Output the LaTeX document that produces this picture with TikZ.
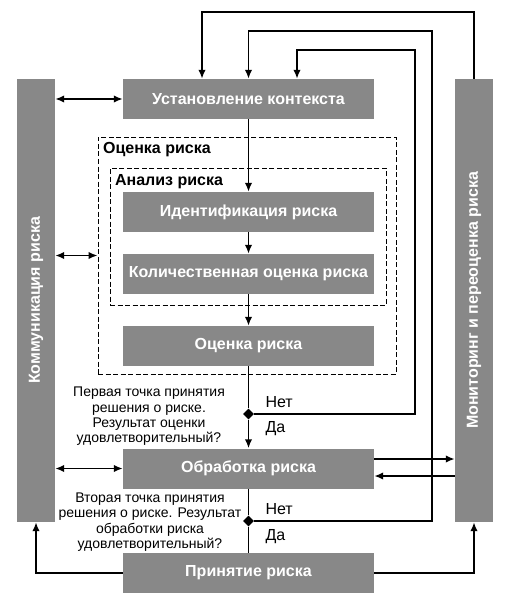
\documentclass[tikz,border=0pt]{standalone}
\usepackage{fontspec}
\setmainfont{Liberation Sans}
\usetikzlibrary{arrows.meta,shapes.geometric}
\definecolor{boxgray}{RGB}{136,136,136}

\tikzset{
  box/.style={fill=boxgray,text=white,font=\bfseries\fontsize{16}{18}\selectfont,
    minimum width=251pt,minimum height=40pt,inner sep=0pt},
  bar/.style={fill=boxgray,minimum width=38pt,minimum height=443pt,inner sep=0pt},
  barlabel/.style={text=white,font=\bfseries\fontsize{16}{18}\selectfont,rotate=90},
  frame/.style={draw,line width=0.9pt,dash pattern=on 5pt off 2.5pt,inner sep=0pt},
  framelabel/.style={anchor=west,font=\bfseries\fontsize{16}{18}\selectfont},
  flow/.style={line width=1.8pt,-{Latex[length=9pt,width=7.5pt]}},
  dflow/.style={line width=1.8pt,{Latex[length=9pt,width=7.5pt]}-{Latex[length=9pt,width=7.5pt]}},
  plain/.style={line width=1.8pt},
  decision/.style={diamond,fill=black,inner sep=0pt,minimum size=11pt},
  ask/.style={align=center,font=\fontsize{14}{15.3}\selectfont},
  yesno/.style={anchor=west,font=\fontsize{16}{18}\selectfont}
}

\begin{document}
\begin{tikzpicture}[x=1pt,y=-1pt]
\useasboundingbox (0,0) rectangle (514,599);

%%%%%%%%%%%%%% side bars
\node[bar] (comm) at (36,300.5) {};
\node[barlabel] (commtext) at (comm.center) {Коммуникация риска};
\node[bar] (mon) at (474,300.5) {};
\node[barlabel] (montext) at (mon.center) {Мониторинг и переоценка риска};

%%%%%%%%%%%%%% dashed frames
\node[frame,minimum width=298pt,minimum height=237pt] (assess) at (247,255.5) {};
\node[framelabel] (assesstext) at ([xshift=2pt,yshift=-13pt]assess.north west) {Оценка риска};
\node[frame,minimum width=276pt,minimum height=137pt] (analysis) at (248,236.5) {};
\node[framelabel] (analysistext) at ([xshift=2pt,yshift=-14pt]analysis.north west) {Анализ риска};

%%%%%%%%%%%%%% process boxes
\node[box] (ctx) at (248.5,99) {Установление контекста};
\node[box] (ident) at (248.5,212) {Идентификация риска};
\node[box] (quant) at (248.5,274) {Количественная оценка риска};
\node[box] (eval) at (248.5,346) {Оценка риска};
\node[box] (treat) at (248.5,468.5) {Обработка риска};
\node[box] (accept) at (248.5,573) {Принятие риска};

%%%%%%%%%%%%%% decisions
\node[decision] (d1) at (248.5,414) {};
\node[ask] (q1) at (149,416.5) {Первая точка принятия\\решения о риске.\\Результат оценки\\удовлетворительный?};
\node[yesno] (no1) at (262,402) {Нет};
\node[yesno] (yes1) at (262,429) {Да};

\node[decision] (d2) at (248.5,521) {};
\node[ask] (q2) at (150,522) {Вторая точка принятия\\решения о риске. Результат\\обработки риска\\удовлетворительный?};
\node[yesno] (no2) at (262,509) {Нет};
\node[yesno] (yes2) at (262,537) {Да};

%%%%%%%%%%%%%% main flow
\draw[flow] (ctx) -- (ident);
\draw[flow] (ident) -- (quant);
\draw[flow] (quant) -- (eval);
\draw[plain] (eval) -- (d1);
\draw[flow] (d1) -- (treat);
\draw[plain] (treat) -- (d2) -- (accept);

%%%%%%%%%%%%%% feedback loops
\coordinate (top1) at (202,12);
\coordinate (top2) at (432,31);
\coordinate (top3) at (415,50);
\draw[flow] (mon.north) |- (top1) -- (top1 |- ctx.north);
\draw[flow] (d2) -| (top2) -| (ctx.north);
\draw[flow] (d1) -| (top3) -| ([xshift=48.5pt]ctx.north);

%%%%%%%%%%%%%% links to the bars
\draw[dflow] (ctx.west -| comm.east) -- (ctx.west);
\draw[dflow] (assess.west -| comm.east) -- (assess.west);
\draw[dflow] (treat.west -| comm.east) -- (treat.west);
\coordinate (tr1) at ([yshift=9.5pt]treat.east);
\coordinate (tr2) at ([yshift=-7.5pt]treat.east);
\draw[flow] (tr1) -- (tr1 -| mon.west);
\draw[flow] (tr2 -| mon.west) -- (tr2);
\draw[flow] (accept.west) -| (comm.south);
\draw[flow] (accept.east) -| (mon.south);

\end{tikzpicture}
\end{document}
